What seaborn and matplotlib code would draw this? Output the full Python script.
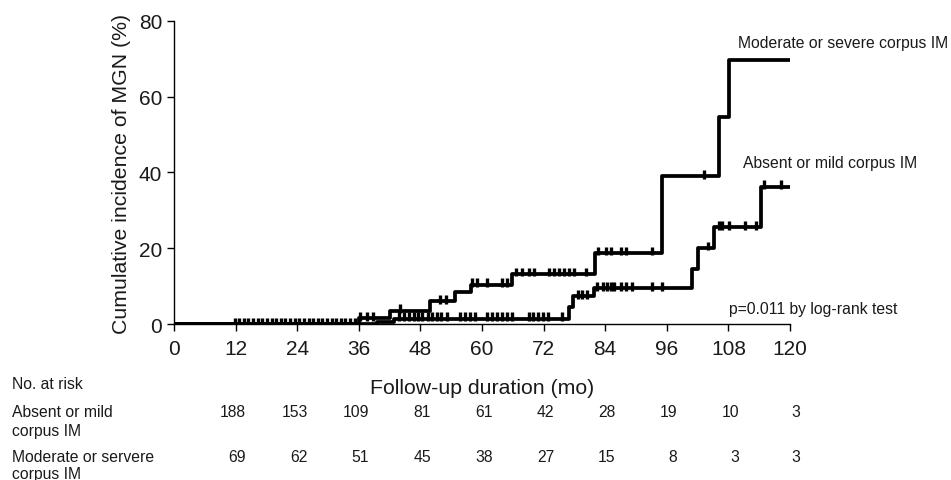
import numpy as np
import pandas as pd
import matplotlib
matplotlib.use("Agg")
import matplotlib.pyplot as plt
import matplotlib.transforms as mtransforms
from matplotlib.path import Path
import seaborn as sns

# step curves: event times (mo) and cumulative incidence (%) after each step
mod_times = [0, 36.0, 42.0, 49.8, 54.8, 57.8, 65.9, 82.1, 95.1, 106.2, 108.2]
mod_cum = [0, 1.5, 3.5, 6.0, 8.4, 10.4, 13.2, 18.7, 39.0, 54.6, 69.8]
abs_times = [0, 39.5, 42.8, 77.0, 77.8, 81.9, 101.0, 102.1, 105.2, 114.3]
abs_cum = [0, 0.5, 1.4, 4.5, 7.3, 9.4, 14.5, 20.0, 25.5, 36.3]
end_time = 120

# censored observations (mo)
mod_censor = [36.3, 37.6, 38.8, 44.1, 51.9, 53.0, 58.1, 59.1, 61.0, 63.9, 64.9,
              66.7, 67.8, 69.1, 70.1, 73.0, 74.0, 75.0, 76.0, 76.9, 77.9, 80.2,
              82.5, 84.1, 85.2, 87.0, 88.1, 93.2, 103.2]
abs_censor = [11.8, 12.7, 13.6, 14.5, 15.4, 16.3, 17.2, 18.1, 19.0, 19.9, 20.8,
              21.7, 22.6, 23.5, 24.4, 25.3, 26.2, 27.1, 28.0, 28.9, 29.8, 30.7,
              31.6, 32.5, 33.4, 34.3, 35.2,
              43.8, 44.8, 45.8, 46.8, 47.5, 48.4, 49.4, 50.3, 51.2, 52.1, 53.1,
              55.8, 56.7, 57.6, 58.6, 61.0, 62.0, 62.9, 63.9, 64.9, 65.9, 69.1,
              70.0, 70.9, 71.9, 72.8, 75.6, 78.7, 79.5, 80.4, 82.4, 83.5, 84.3,
              85.1, 85.7, 87.0, 88.0, 89.2, 93.2, 95.1, 104.1, 106.1, 106.8,
              108.2, 111.2, 113.4, 115.0, 118.2]

x_ticks = [0, 12, 24, 36, 48, 60, 72, 84, 96, 108, 120]
y_ticks = [0, 20, 40, 60, 80]

risk_times = [12, 24, 36, 48, 60, 72, 84, 96, 108, 120]
risk_groups = ["Absent or mild\ncorpus IM", "Moderate or servere\ncorpus IM"]
risk_abs = [188, 153, 109, 81, 61, 42, 28, 19, 10, 3]
risk_mod = [69, 62, 51, 45, 38, 27, 15, 8, 3, 3]

sns.set_theme(style="white")
plt.rcParams["font.family"] = ["Liberation Sans", "DejaVu Sans"]
txt = "#1a1a1a"


def step_df(times, cum):
    return pd.DataFrame({"t": list(times) + [end_time], "c": list(cum) + [cum[-1]]})


def censor_df(times, cum, cens):
    idx = np.searchsorted(times, cens, side="right") - 1
    return pd.DataFrame({"t": cens, "c": np.asarray(cum)[idx]})


fig = plt.figure(figsize=(9.51, 4.81), dpi=100)
ax = fig.add_axes([0.183, 0.3243, 0.6477, 0.6300])

tick_marker = Path([(0, -0.35), (0, 1.0)], [Path.MOVETO, Path.LINETO])

for times, cum, cens in [(abs_times, abs_cum, abs_censor), (mod_times, mod_cum, mod_censor)]:
    sns.lineplot(data=step_df(times, cum), x="t", y="c", ax=ax, color="black",
                 linewidth=2.7, drawstyle="steps-post", estimator=None, sort=False)
    sns.scatterplot(data=censor_df(times, cum, cens), x="t", y="c", ax=ax,
                    marker=tick_marker, s=85, linewidth=2.4, edgecolor="black",
                    facecolor="none", zorder=3)

ax.set_xlim(0, 120)
ax.set_ylim(0, 80)
ax.set_xticks(x_ticks)
ax.set_yticks(y_ticks)
ax.tick_params(axis="both", direction="out", length=5, width=1, color="black",
               labelsize=15, labelcolor=txt, bottom=True, left=True)
ax.tick_params(axis="x", pad=6)
for s in ["top", "right"]:
    ax.spines[s].set_visible(False)
for s in ["left", "bottom"]:
    ax.spines[s].set_color("black")
    ax.spines[s].set_linewidth(1)

ax.set_ylabel("Cumulative incidence of MGN (%)", fontsize=15.3, color=txt, labelpad=6)
ax.set_xlabel("Follow-up duration (mo)", fontsize=15.3, color=txt, labelpad=14)

ax.text(109.9, 74.4, "Moderate or severe corpus IM", fontsize=11.3, color=txt,
        va="center", ha="left", clip_on=False)
ax.text(110.8, 42.7, "Absent or mild corpus IM", fontsize=11.3, color=txt,
        va="center", ha="left", clip_on=False)
ax.text(108.1, 4.1, "p=0.011 by log-rank test", fontsize=11.3, color=txt,
        va="center", ha="left", clip_on=False)

# number-at-risk table
blend = mtransforms.blended_transform_factory(ax.transData, fig.transFigure)
fig.text(0.0126, 0.1996, "No. at risk", fontsize=11.3, color=txt, va="center")
row_y = [(0.1414, 0.1035), (0.0493, 0.0125)]
for name, (y1, y2), counts in zip(risk_groups, row_y, [risk_abs, risk_mod]):
    line1, line2 = name.split("\n")
    fig.text(0.0126, y1, line1, fontsize=11.3, color=txt, va="center")
    fig.text(0.0126, y2, line2, fontsize=11.3, color=txt, va="center")
    for t, n in zip(risk_times, counts):
        fig.text(t + 2.05, y1, str(n), fontsize=11.3, color=txt, va="center",
                 ha="right", transform=blend)

fig.savefig("out.png", dpi=100)
